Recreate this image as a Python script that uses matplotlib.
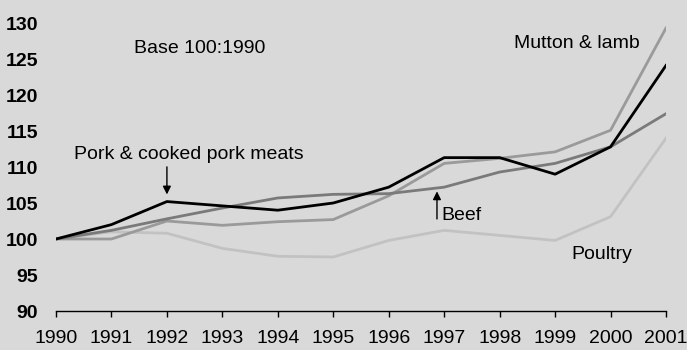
import matplotlib
matplotlib.use('Agg')
import matplotlib.pyplot as plt

years = [1990, 1991, 1992, 1993, 1994, 1995, 1996, 1997, 1998, 1999, 2000, 2001]
pork = [100, 102.0, 105.2, 104.6, 104.0, 105.0, 107.2, 111.3, 111.3, 109.0, 112.8, 124.1]
mutton = [100, 100.0, 102.5, 101.9, 102.4, 102.7, 106.0, 110.5, 111.2, 112.1, 115.1, 129.3]
beef = [100, 101.2, 102.8, 104.3, 105.7, 106.2, 106.3, 107.2, 109.3, 110.5, 112.8, 117.4]
poultry = [100, 101.0, 100.8, 98.7, 97.6, 97.5, 99.8, 101.2, 100.5, 99.8, 103.1, 114.0]
yticks = [90, 95, 100, 105, 110, 115, 120, 125, 130]

plt.rcParams['font.family'] = ['Liberation Sans', 'DejaVu Sans']
bg = '#d9d9d9'
fs = 14

fig = plt.figure(figsize=(6.87, 3.5), dpi=100)
fig.patch.set_facecolor(bg)
ax = fig.add_axes([56 / 687, 1 - 311 / 350, 610 / 687, 288 / 350])
ax.set_facecolor(bg)

ax.plot(years, poultry, color='#c2c2c2', lw=2)
ax.plot(years, mutton, color='#9a9a9a', lw=2)
ax.plot(years, beef, color='#7a7a7a', lw=2)
ax.plot(years, pork, color='black', lw=2)

ax.set_xlim(1990, 2001)
ax.set_ylim(90, 130)
ax.set_xticks(years)
ax.set_xticklabels([str(y) for y in years], fontsize=fs)
ax.set_yticks(yticks)
ax.set_yticklabels([str(v) for v in yticks], fontsize=fs, fontweight='bold')
ax.tick_params(axis='x', direction='out', length=4.5, width=1, pad=9.5)
ax.tick_params(axis='y', length=0, pad=13)

for s in ['top', 'right', 'left']:
    ax.spines[s].set_visible(False)
ax.spines['bottom'].set_linewidth(1)
ax.spines['bottom'].set_color('black')

# labels and arrows
ax.text(1992.6, 126.5, 'Base 100:1990', fontsize=fs, ha='center', va='center')
ax.text(1999.4, 127.2, 'Mutton & lamb', fontsize=fs, ha='center', va='center')
ax.text(1992.4, 111.7, 'Pork & cooked pork meats', fontsize=fs, ha='center', va='center')
ax.annotate('', xy=(1992, 105.8), xytext=(1992, 110.4),
            arrowprops=dict(arrowstyle='-|>', color='black', lw=1, mutation_scale=12))
ax.text(1996.95, 103.2, 'Beef', fontsize=fs, ha='left', va='center')
ax.annotate('', xy=(1996.87, 107.0), xytext=(1996.87, 102.4),
            arrowprops=dict(arrowstyle='-|>', color='black', lw=1, mutation_scale=12))
ax.text(1999.3, 97.8, 'Poultry', fontsize=fs, ha='left', va='center')

fig.savefig('out.png', dpi=100, facecolor=bg)
